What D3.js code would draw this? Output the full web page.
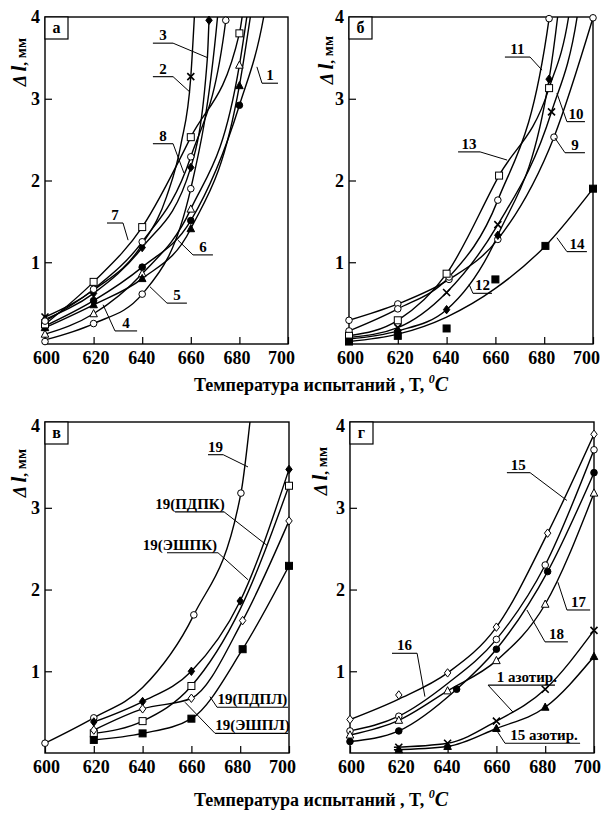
<!DOCTYPE html>
<html><head><meta charset="utf-8">
<script src="https://cdn.jsdelivr.net/npm/d3@7"></script>
<style>
body{margin:0;background:#fff}
svg{display:block}
text{font-family:"Liberation Serif","Times New Roman",serif;font-weight:bold;fill:#000}
</style>
</head><body>
<svg id="c" width="601" height="813"></svg>
<script>
// ---------- data ----------
const tempTicks = [600, 620, 640, 660, 680, 700];
const valTicks = [1, 2, 3, 4];
const yTitle = ["Δ ", "l", ", мм"];
const xTitle = ["Температура испытаний , T, ", "0", "C"];

// panel а
const seriesA = [
  {n:"1", s:"fc", T:[600,620,640,660,680,690,692], v:[0.22,0.53,0.94,1.51,2.92,4.0,4.35], mT:[600,620,640,660,680], mV:[0.22,0.53,0.94,1.51,2.92]},
  {n:"2", s:"x",  T:[600,620,640,650,656,660,662], v:[0.33,0.66,1.22,1.8,2.45,3.27,4.3], mT:[600,660], mV:[0.33,3.27]},
  {n:"3", s:"fd", T:[600,620,640,660,666.8,667.5,668.2], v:[0.3,0.62,1.18,2.16,3.49,3.96,4.4], mT:[600,620,640,660,667.5], mV:[0.3,0.62,1.18,2.16,3.96]},
  {n:"4", s:"ot", T:[600,620,640,660,680,684.5], v:[0.12,0.37,0.86,1.65,3.41,4.3], mT:[600,620,640,660,680], mV:[0.12,0.37,0.86,1.65,3.41]},
  {n:"5", s:"oc", T:[600,620,640,660,671,672.5], v:[0.05,0.25,0.61,1.9,4.0,4.5], mT:[600,620,640,660], mV:[0.03,0.25,0.61,1.9]},
  {n:"6", s:"ft", T:[600,620,640,660,680,686], v:[0.2,0.48,0.8,1.41,3.16,4.3], mT:[600,620,640,660,680], mV:[0.2,0.48,0.8,1.41,3.16]},
  {n:"7", s:"os", T:[600,620,640,660,680,682], v:[0.24,0.76,1.43,2.53,3.8,4.2], mT:[600,620,640,660,680], mV:[0.24,0.76,1.43,2.53,3.8]},
  {n:"8", s:"oc", T:[600,620,640,660,674.4,676], v:[0.28,0.67,1.25,2.29,3.96,4.4], mT:[600,620,640,660,674.4], mV:[0.28,0.67,1.25,2.29,3.96]}
];
// panel б
const seriesB = [
  {n:"9",  s:"oc", T:[600,620,641,661,684,700], v:[0.29,0.49,0.79,1.28,2.53,3.99], mT:[600,620,641,661,684,700], mV:[0.29,0.49,0.79,1.28,2.53,3.99]},
  {n:"10", s:"x",  T:[600,620,640,661,683,693.5,695], v:[0.08,0.2,0.63,1.46,2.84,4.0,4.3], mT:[600,620,640,661,683], mV:[0.08,0.2,0.63,1.46,2.84]},
  {n:"11", s:"oc", T:[600,620,641,661,682,683], v:[0.16,0.43,0.82,1.76,3.98,4.4], mT:[600,620,641,661,682], mV:[0.16,0.43,0.82,1.76,3.98]},
  {n:"12", s:"fd", T:[600,620,640,661,682,685.5,687], v:[0.06,0.16,0.42,1.33,3.24,4.0,4.4], mT:[600,620,640,661,682], mV:[0.06,0.16,0.42,1.33,3.24]},
  {n:"13", s:"os", T:[600,620,640,661.5,682,690,691.5], v:[0.1,0.29,0.86,2.06,3.13,4.0,4.3], mT:[600,620,640,661.5,682], mV:[0.1,0.29,0.86,2.06,3.13]},
  {n:"14", s:"fs", T:[600,620,640,660,680.5,700], v:[0.03,0.12,0.33,0.68,1.2,1.9], mT:[600,620,640,660,680.5,700], mV:[0.03,0.1,0.19,0.79,1.2,1.9]}
];
// panel в
const seriesC = [
  {n:"19", s:"oc", T:[600,620,640,661,680.3,684,686], v:[0.12,0.43,0.8,1.69,3.18,4.05,4.6], mT:[600,620,661,680.3], mV:[0.12,0.43,1.69,3.18]},
  {n:"19(ПДПК)", s:"fd", T:[620,640,660,680,700], v:[0.38,0.63,1.0,1.86,3.47], mT:[620,640,660,680,700], mV:[0.38,0.63,1.0,1.86,3.47]},
  {n:"19(ЭШПК)", s:"os", T:[620,640,660,680,700], v:[0.24,0.39,0.82,1.76,3.27], mT:[620,640,660,700], mV:[0.24,0.39,0.82,3.27]},
  {n:"19(ПДПЛ)", s:"od", T:[620,640,660,681,700], v:[0.28,0.54,0.67,1.62,2.84], mT:[620,640,660,681,700], mV:[0.28,0.54,0.67,1.62,2.84]},
  {n:"19(ЭШПЛ)", s:"fs", T:[620,640,660,681,700], v:[0.16,0.24,0.42,1.27,2.29], mT:[620,640,660,681,700], mV:[0.16,0.24,0.42,1.27,2.29]}
];
// panel г
const seriesD = [
  {n:"15", s:"od", T:[600,620,640,660,681,700], v:[0.41,0.66,0.98,1.54,2.69,3.9], mT:[600,620,640,660,681,700], mV:[0.41,0.71,0.98,1.54,2.69,3.9]},
  {n:"16", s:"oc", T:[600,620,640,660,680,700], v:[0.27,0.45,0.85,1.39,2.3,3.71], mT:[600,620,660,680,700], mV:[0.27,0.45,1.39,2.3,3.71]},
  {n:"18", s:"fc", T:[600,620,643.7,660,681,700], v:[0.14,0.27,0.78,1.27,2.22,3.43], mT:[600,620,643.7,660,681,700], mV:[0.14,0.27,0.78,1.27,2.22,3.43]},
  {n:"17", s:"ot", T:[600,620,640,660,680,700], v:[0.22,0.4,0.76,1.13,1.82,3.18], mT:[600,620,640,660,680,700], mV:[0.22,0.4,0.76,1.13,1.82,3.18]},
  {n:"1 азотир.", s:"x", T:[618,640,660,680,700], v:[0.07,0.12,0.39,0.78,1.5], mT:[620,640,660,680,700], mV:[0.07,0.12,0.39,0.78,1.5]},
  {n:"15 азотир.", s:"ft", T:[618,640,660,680,700], v:[0.04,0.08,0.3,0.56,1.18], mT:[620,640,660,680,700], mV:[0.04,0.08,0.3,0.56,1.18]}
];

// curve labels (text centre T, underline T-range & value, leader from end -> point on curve)
const notesA = [
  {t:"3", x:648.6, ul:[644.4,652.7], uy:3.68, e:1, to:[667.1,3.50]},
  {t:"2", x:648.6, ul:[644.4,652.7], uy:3.27, e:1, to:[659.7,3.08]},
  {t:"1", x:692.6, ul:[689.3,695.9], uy:3.19, e:0, to:[687.2,3.39]},
  {t:"8", x:648.6, ul:[644.4,652.7], uy:2.45, e:1, to:[657.2,2.09]},
  {t:"7", x:628.8, ul:[625.5,632.1], uy:1.48, e:1, to:[634.2,1.27]},
  {t:"6", x:665.0, ul:[660.9,669.1], uy:1.09, e:0, to:[654.7,1.27]},
  {t:"5", x:654.3, ul:[650.2,658.4], uy:0.50, e:0, to:[643.2,0.70]},
  {t:"4", x:633.3, ul:[628.8,637.9], uy:0.16, e:0, to:[623.9,0.48]}
];
const notesB = [
  {t:"11", x:669.0, ul:[663.9,674.2], uy:3.51, e:1, to:[679.1,3.35]},
  {t:"10", x:693.0, ul:[689.3,696.7], uy:2.72, e:0, to:[685.2,3.07]},
  {t:"9",  x:692.6, ul:[688.5,696.7], uy:2.34, e:0, to:[684.4,2.52]},
  {t:"13", x:649.2, ul:[644.7,653.7], uy:2.35, e:1, to:[664.8,2.25]},
  {t:"14", x:693.4, ul:[689.3,697.5], uy:1.13, e:0, to:[685.2,1.30]},
  {t:"12", x:654.7, ul:[650.8,658.6], uy:0.62, e:0, to:[649.2,0.73]}
];
const notesC = [
  {t:"19", x:669.9, ul:[666.8,673.0], uy:3.65, e:1, to:[683.2,3.50]},
  {t:"19(ПДПК)", x:659.4, ul:[653.3,673.4], uy:2.95, e:1, to:[691.0,2.54]},
  {t:"19(ЭШПК)", x:655.3, ul:[650.0,670.9], uy:2.45, e:1, to:[683.2,2.12]},
  {t:"19(ПДПЛ)", x:685.0, ul:[670.5,699.6], uy:0.56, e:0, to:[667.6,0.69]},
  {t:"19(ЭШПЛ)", x:685.0, ul:[669.7,699.6], uy:0.24, e:0, to:[657.4,0.62]}
];
const notesD = [
  {t:"15", x:669.0, ul:[664.3,673.8], uy:3.43, e:1, to:[688.9,3.09]},
  {t:"17", x:693.6, ul:[688.9,698.4], uy:1.75, e:0, to:[685.2,2.09]},
  {t:"18", x:684.6, ul:[679.9,689.3], uy:1.36, e:0, to:[672.5,1.75]},
  {t:"16", x:622.3, ul:[617.2,627.5], uy:1.22, e:1, to:[630.7,0.69]},
  {t:"1 азотир.", x:672.5, ul:[656.6,684.0], uy:0.83, e:0, to:[666.8,0.50]},
  {t:"15 азотир.", x:679.5, ul:[663.5,694.3], uy:0.12, e:0, to:[659.4,0.31]}
];

// ---------- layout ----------
const panels = [
  {letter:"а", data:seriesA, notes:notesA, xr:[45,288],  yr:[344,17],  yd:[0,4],    ytX:26,  ytY:62},
  {letter:"б", data:seriesB, notes:notesB, xr:[349,593], yr:[344,17],  yd:[0,4],    ytX:333, ytY:60},
  {letter:"в", data:seriesC, notes:notesC, xr:[45,289],  yr:[753,422], yd:[0,4.05], ytX:26,  ytY:473},
  {letter:"г", data:seriesD, notes:notesD, xr:[350,594], yr:[753,422], yd:[0,4.05], ytX:327, ytY:471}
];
const labelShift = {600: 1, 620: 2, 640: -1, 660: 0, 680: -3, 700: -7};

const svg = d3.select("#c");

function marker(g, type, cx, cy) {
  const s = 3.5;
  const open = type[0] === "o";
  const fill = open ? "#fff" : "#000";
  let el;
  switch (type) {
    case "oc": case "fc":
      el = g.append("circle").attr("cx", cx).attr("cy", cy).attr("r", 3.3); break;
    case "os": case "fs":
      el = g.append("rect").attr("x", cx - s).attr("y", cy - s).attr("width", 2 * s).attr("height", 2 * s); break;
    case "ot": case "ft":
      el = g.append("path").attr("d", `M${cx},${cy - 4.2}L${cx + 3.8},${cy + 3}L${cx - 3.8},${cy + 3}Z`); break;
    case "od": case "fd":
      el = g.append("path").attr("d", `M${cx},${cy - 4.2}L${cx + 3.2},${cy}L${cx},${cy + 4.2}L${cx - 3.2},${cy}Z`); break;
    case "x":
      g.append("path").attr("d", `M${cx - 3.5},${cy - 3.5}L${cx + 3.5},${cy + 3.5}M${cx - 3.5},${cy + 3.5}L${cx + 3.5},${cy - 3.5}`)
        .attr("stroke", "#000").attr("stroke-width", 1.6).attr("fill", "none");
      return;
  }
  el.attr("fill", fill).attr("stroke", "#000").attr("stroke-width", 1);
}

panels.forEach((p, pi) => {
  const x = d3.scaleLinear().domain([600, 700]).range(p.xr);
  const y = d3.scaleLinear().domain(p.yd).range(p.yr);
  const g = svg.append("g");
  const [x0, x1] = p.xr, [yb, yt] = p.yr;

  // clip
  const cid = "clip" + pi;
  svg.append("clipPath").attr("id", cid).append("rect")
    .attr("x", x0).attr("y", yt).attr("width", x1 - x0).attr("height", yb - yt);

  // axes
  const xa = g.append("g").attr("transform", `translate(0,${yb})`)
    .call(d3.axisBottom(x).tickValues(tempTicks).tickSizeInner(-7).tickSizeOuter(0).tickPadding(7).tickFormat(d3.format("d")));
  xa.selectAll(".tick text").attr("dx", d => labelShift[d] || 0);
  const ya = g.append("g").attr("transform", `translate(${x0},0)`)
    .call(d3.axisLeft(y).tickValues(valTicks).tickSizeInner(-7).tickSizeOuter(0).tickPadding(5).tickFormat(d3.format("d")));
  [xa, ya].forEach(a => {
    a.select(".domain").remove();
    a.selectAll("line").attr("stroke", "#000").attr("stroke-width", 1.2);
    a.selectAll("text").attr("font-size", 18).attr("font-family", "Liberation Serif").attr("font-weight", "bold").attr("fill", "#000");
  });

  // frame
  g.append("rect").attr("x", x0).attr("y", yt).attr("width", x1 - x0).attr("height", yb - yt)
    .attr("fill", "none").attr("stroke", "#000").attr("stroke-width", 1.4);

  // curves
  const line = d3.line().x(d => x(d[0])).y(d => y(d[1])).curve(d3.curveMonotoneX);
  const cg = g.append("g").attr("clip-path", `url(#${cid})`);
  p.data.forEach(s => {
    cg.append("path").attr("d", line(s.T.map((t, i) => [t, s.v[i]])))
      .attr("fill", "none").attr("stroke", "#000").attr("stroke-width", 1.4);
  });
  // markers
  const mg = g.append("g");
  p.data.forEach(s => {
    s.mT.forEach((t, i) => marker(mg, s.s, x(t), y(s.mV[i])));
  });

  // notes
  const ng = g.append("g");
  p.notes.forEach(n => {
    const ux0 = x(n.ul[0]), ux1 = x(n.ul[1]), uy = y(n.uy);
    ng.append("line").attr("x1", ux0).attr("x2", ux1).attr("y1", uy).attr("y2", uy)
      .attr("stroke", "#000").attr("stroke-width", 1.1);
    const sx = n.e ? ux1 : ux0;
    ng.append("line").attr("x1", sx).attr("y1", uy).attr("x2", x(n.to[0])).attr("y2", y(n.to[1]))
      .attr("stroke", "#000").attr("stroke-width", 1);
    ng.append("text").attr("x", x(n.x)).attr("y", uy - 3).attr("text-anchor", "middle")
      .attr("font-size", 15).text(n.t);
  });

  // letter box
  g.append("rect").attr("x", x0).attr("y", yt).attr("width", 23).attr("height", 22)
    .attr("fill", "#fff").attr("stroke", "#000").attr("stroke-width", 1.2);
  g.append("text").attr("x", x0 + 11.5).attr("y", yt + 16).attr("text-anchor", "middle")
    .attr("font-size", 16).text(p.letter);

  // y title
  const yt_ = g.append("text").attr("transform", `translate(${p.ytX},${p.ytY}) rotate(-90)`)
    .attr("text-anchor", "middle");
  yt_.append("tspan").attr("font-style", "italic").attr("font-size", 18).text(yTitle[0]);
  yt_.append("tspan").attr("font-style", "italic").attr("font-size", 21).text(yTitle[1]);
  yt_.append("tspan").attr("font-size", 15).text(yTitle[2]);
});

// x titles
[391, 806].forEach(by => {
  const t = svg.append("text").attr("x", 321).attr("y", by).attr("text-anchor", "middle").attr("font-size", 18);
  t.append("tspan").text(xTitle[0]);
  t.append("tspan").attr("font-style", "italic").attr("font-size", 12).attr("dy", -8).text(xTitle[1]);
  t.append("tspan").attr("font-style", "italic").attr("font-size", 20).attr("dy", 8).text(xTitle[2]);
});
</script>
</body></html>
